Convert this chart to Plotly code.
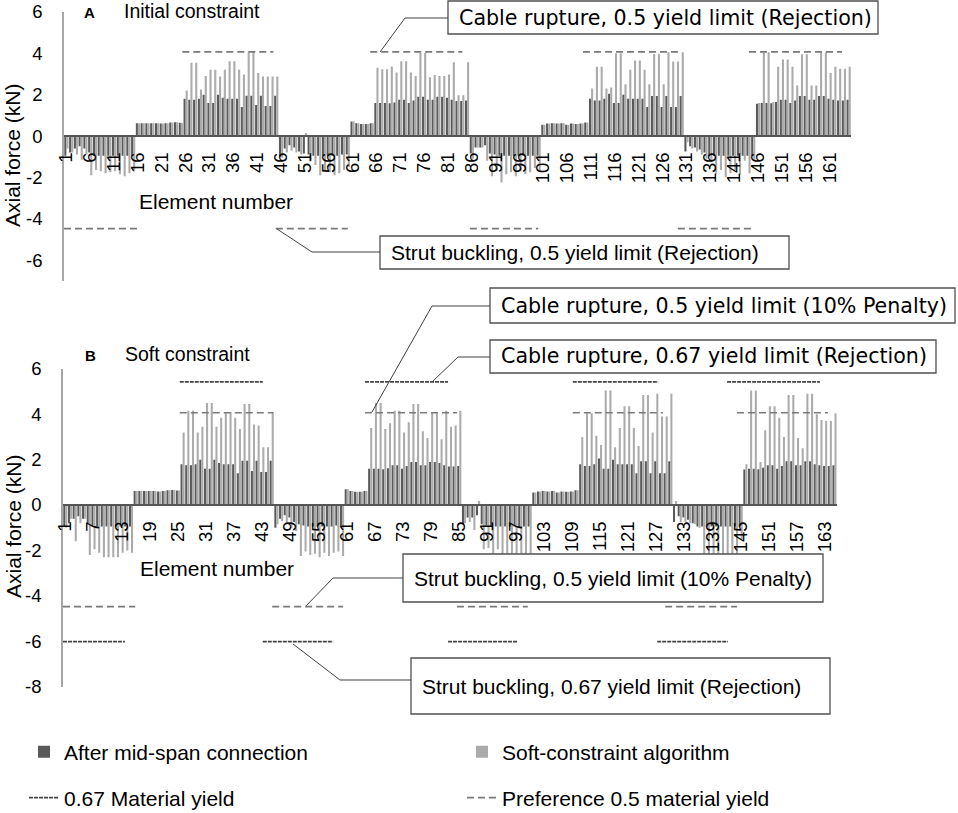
import plotly.graph_objects as go

# ---------------- data ----------------
elements = list(range(1, 166))

# "After mid-span connection" (same in both panels)
after_midspan = [
    -0.95, -0.8, -0.6, -0.5, -0.6, -0.8, -0.95, -0.95, -0.95, -0.95, -0.95, -0.95, -0.95, -0.95, -0.95,
    0.62, 0.62, 0.62, 0.62, 0.62, 0.6, 0.62, 0.65, 0.66, 0.64,
    1.8, 1.75, 1.75, 1.8, 2.0, 1.6, 1.6, 2.0, 1.85, 1.8, 1.8, 1.8, 1.4, 1.95, 1.95, 1.5, 1.95, 1.45, 1.45, 1.95,
    -1.0, -0.6, -0.45, -0.55, -0.75, -0.85, -0.9, -0.95, -0.95, -0.95, -0.95, -0.95, -0.95, -0.9, -0.9,
    0.7, 0.62, 0.58, 0.58, 0.62,
    1.6, 1.6, 1.6, 1.58, 1.62, 1.75, 1.75, 1.6, 1.72, 1.9, 1.9, 1.75, 1.75, 1.9, 1.9, 1.85, 1.75, 1.7, 1.7, 1.72,
    -0.85, -0.55, -0.55, -0.45, -0.85, -0.9, -0.95, -0.95, -0.95, -0.95, -0.95, -0.95, -0.95, -0.95, -0.95,
    0.55, 0.6, 0.62, 0.6, 0.62, 0.55, 0.6, 0.58, 0.6, 0.65,
    1.8, 1.72, 1.72, 1.8, 2.05, 1.6, 1.6, 2.0, 1.8, 1.8, 1.8, 1.8, 1.4, 1.93, 1.93, 1.4, 1.93, 1.4, 1.4, 1.93,
    -0.75, -0.5, -0.55, -0.65, -0.8, -0.95, -0.95, -0.95, -0.95, -0.95, -0.95, -0.95, -0.95, -0.95, -0.95,
    1.56, 1.6, 1.6, 1.58, 1.64, 1.75, 1.75, 1.6, 1.72, 1.93, 1.93, 1.75, 1.75, 1.93, 1.93, 1.8, 1.75, 1.72, 1.72, 1.75,
]

# "Soft-constraint algorithm", panel A (initial constraint)
soft_A = [
    -0.6, -0.8, -0.9, -1.15, -0.9, -1.9, -1.65, -1.7, -1.8, -1.75, -1.7, -1.85, -1.95, -1.8, -1.65,
    0.62, 0.62, 0.62, 0.62, 0.62, 0.6, 0.62, 0.65, 0.66, 0.64,
    2.2, 3.55, 3.55, 2.25, 2.9, 3.2, 3.2, 2.88, 3.2, 3.62, 3.62, 3.2, 2.98, 4.05, 4.05, 3.05, 2.88, 2.88, 2.88, 2.88,
    -1.05, -0.8, -0.7, -0.8, -0.9, 0.15, -1.2, -1.4, -1.9, -1.65, -1.75, -1.9, -1.8, -1.65, -1.5,
    0.7, 0.62, 0.58, 0.58, 0.62,
    3.3, 3.23, 3.23, 3.36, 3.07, 3.62, 3.62, 3.07, 2.9, 4.02, 4.02, 2.84, 2.95, 2.9, 2.9, 2.98, 3.57, 1.97, 1.97, 3.57,
    -1.1, -0.55, -0.55, -1.2, -1.95, -1.7, -2.25, -1.85, -1.75, -1.95, -1.7, -1.85, -1.75, -1.55, -1.7,
    0.55, 0.6, 0.62, 0.6, 0.62, 0.55, 0.6, 0.58, 0.6, 0.65,
    2.3, 3.35, 3.35, 2.3, 2.35, 4.0, 4.0, 2.5, 3.2, 3.65, 3.65, 3.2, 2.5, 3.97, 3.97, 2.5, 4.05, 3.6, 3.6, 4.05,
    -0.3, -0.6, -0.75, -0.9, -1.1, -1.25, -1.85, -1.65, -2.0, -1.8, -1.65, -1.85, -1.2, -1.8, -1.15,
    1.6, 4.05, 4.05, 1.65, 3.35, 3.7, 3.7, 3.35, 2.45, 3.95, 3.95, 2.45, 2.45, 4.05, 4.05, 3.05, 3.35, 3.25, 3.25, 3.35,
]

# "Soft-constraint algorithm", panel B (soft constraint)
soft_B = [
    -1.0, -0.6, -1.6, -0.8, -0.6, -2.2, -1.95, -2.1, -2.3, -2.3, -2.3, -2.3, -2.1, -2.0, -2.1,
    0.62, 0.62, 0.62, 0.62, 0.62, 0.6, 0.62, 0.65, 0.66, 0.64,
    3.2, 4.15, 4.15, 3.2, 3.45, 4.5, 4.5, 3.45, 3.85, 4.1, 4.1, 3.85, 3.35, 4.45, 4.45, 3.55, 3.5, 2.55, 2.55, 4.1,
    -0.85, -0.7, -0.8, -1.0, -1.15, -2.25, -2.05, -2.2, -2.15, -2.3, -2.1, -2.25, -2.1, -2.05, -2.25,
    0.7, 0.62, 0.58, 0.58, 0.62,
    3.4, 4.5, 4.5, 3.35, 3.6, 4.15, 4.15, 3.2, 3.65, 4.45, 4.45, 3.25, 2.95, 4.1, 4.1, 2.9, 4.15, 3.45, 3.5, 4.15,
    -0.8, -0.75, -1.1, 0.18, -1.95, -1.9, -2.6, -1.95, -2.2, -2.2, -2.2, -2.2, -2.15, -2.35, -2.15,
    0.55, 0.6, 0.62, 0.6, 0.62, 0.55, 0.6, 0.58, 0.6, 0.65,
    3.0, 4.05, 4.05, 3.05, 2.65, 5.05, 5.05, 2.55, 3.4, 4.35, 4.35, 3.4, 2.6, 4.85, 4.85, 3.2, 4.9, 3.9, 3.9, 4.9,
    0.18, -0.75, -0.75, -0.8, -0.85, -1.0, -2.25, -2.3, -2.2, -2.35, -2.3, -2.25, -2.2, -2.2, -1.5,
    1.8, 5.05, 5.05, 1.9, 3.3, 4.35, 4.35, 3.85, 3.0, 4.85, 4.85, 2.95, 2.5, 4.9, 4.9, 4.0, 3.75, 3.7, 3.7, 4.05,
]

# limit levels (kN)
cable_05 = 4.07
cable_067 = 5.43
strut_05 = -4.48
strut_067 = -6.02

# element spans covered by each limit line
A_cable05_spans = [(25.3, 44.4), (64.7, 84.0), (109.3, 129.2), (144.1, 163.6)]
A_strut05_spans = [(0.5, 15.8), (44.9, 60.0), (85.6, 99.9), (129.2, 144.5)]
B_cable05_spans = [(25.4, 45.3), (64.9, 84.5), (109.2, 128.4), (144.2, 163.6)]
B_cable067_spans = [(25.4, 43.1), (64.9, 82.6), (109.2, 127.4), (142.1, 161.9)]
B_strut05_spans = [(0.5, 15.9), (45.1, 60.2), (84.5, 99.6), (128.9, 144.2)]
B_strut067_spans = [(0.5, 13.7), (43.1, 58.1), (82.6, 97.5), (127.2, 142.3)]

xticks_A = list(range(1, 166, 5))
xticks_B = list(range(1, 166, 6))
yticks_A = [6, 4, 2, 0, -2, -4, -6]
yticks_B = [6, 4, 2, 0, -2, -4, -6, -8]

# ---------------- layout helpers ----------------
W, H = 958, 813
def px(x):
    return x / W
def py(y):
    return 1 - y / H

DARK = "#5a5a5a"
LIGHT = "#ababab"
DASH_C = "#7a7a7a"
TXT = "#000000"
SANS = "Liberation Sans"
VERD = "DejaVu Sans"


def segs(spans_lists):
    xs, ys = [], []
    for spans, v in spans_lists:
        for s, e in spans:
            xs += [s, e, None]
            ys += [v, v, None]
    return xs, ys


fig = go.Figure()

# Panel A bars
fig.add_trace(go.Bar(x=elements, y=after_midspan, xaxis="x", yaxis="y", marker_color=DARK,
                     marker_line_width=0, offsetgroup="d", name="After mid-span connection",
                     legend="legend", legendrank=1))
fig.add_trace(go.Bar(x=elements, y=soft_A, xaxis="x", yaxis="y", marker_color=LIGHT,
                     marker_line_width=0, offsetgroup="l", name="Soft-constraint algorithm",
                     legend="legend", legendrank=2))
# Panel B bars
fig.add_trace(go.Bar(x=elements, y=after_midspan, xaxis="x2", yaxis="y2", marker_color=DARK,
                     marker_line_width=0, offsetgroup="d", showlegend=False))
fig.add_trace(go.Bar(x=elements, y=soft_B, xaxis="x2", yaxis="y2", marker_color=LIGHT,
                     marker_line_width=0, offsetgroup="l", showlegend=False))

# limit lines
xa, ya = segs([(A_cable05_spans, cable_05), (A_strut05_spans, strut_05)])
fig.add_trace(go.Scatter(x=xa, y=ya, xaxis="x", yaxis="y", mode="lines",
                         line=dict(color=DASH_C, width=1.6, dash="7px,4px"),
                         name="Preference 0.5 material yield", legend="legend2", legendrank=2,
                         hoverinfo="skip"))
xb, yb = segs([(B_cable05_spans, cable_05), (B_strut05_spans, strut_05)])
fig.add_trace(go.Scatter(x=xb, y=yb, xaxis="x2", yaxis="y2", mode="lines",
                         line=dict(color=DASH_C, width=1.6, dash="7px,4px"),
                         showlegend=False, hoverinfo="skip"))
xc, yc = segs([(B_cable067_spans, cable_067), (B_strut067_spans, strut_067)])
fig.add_trace(go.Scatter(x=xc, y=yc, xaxis="x2", yaxis="y2", mode="lines",
                         line=dict(color="#454545", width=1.6, dash="4px,1px"),
                         name="0.67 Material yield", legend="legend2", legendrank=1,
                         hoverinfo="skip"))

# domains
xdomA = [px(64), px(64 + 165 * 4.77)]
xdomB = [px(63), px(63 + 165 * 4.69)]
ydomA = [py(280.7), py(12)]
ydomB = [py(686.5), py(368.9)]
rA = [-7, 6]
rB = [-8, 6]
zeroA = ydomA[0] + (0 - rA[0]) / (rA[1] - rA[0]) * (ydomA[1] - ydomA[0])
zeroB = ydomB[0] + (0 - rB[0]) / (rB[1] - rB[0]) * (ydomB[1] - ydomB[0])

tickfont = dict(family=SANS, size=18.5, color=TXT)

def xaxis_cfg(dom, pos, ticks):
    return dict(domain=dom, range=[0.5, 165.5], anchor="free", position=pos,
                tickmode="array", tickvals=ticks, ticktext=[str(t) for t in ticks],
                tickangle=-90, tickfont=tickfont, showline=True, linecolor="#555555",
                linewidth=2, ticks="", showgrid=False, zeroline=False, ticklabelstandoff=8,
                fixedrange=True, automargin=False)

def yaxis_cfg(dom, rng, ticks, anchor):
    return dict(domain=dom, range=rng, anchor=anchor, tickmode="array", tickvals=ticks,
                ticktext=[str(t) for t in ticks], tickfont=tickfont, showline=True,
                linecolor="#a6a6a6", linewidth=1.5, ticks="", showgrid=False,
                zeroline=False, ticklabelstandoff=16, fixedrange=True, automargin=False)

legend_font = dict(family=SANS, size=21, color=TXT)
fig.update_layout(
    width=W, height=H, margin=dict(l=0, r=0, t=0, b=0, pad=0, autoexpand=False),
    paper_bgcolor="white", plot_bgcolor="rgba(0,0,0,0)",
    font=dict(family=SANS, color=TXT),
    barmode="group", bargap=0.12, bargroupgap=0.0,
    xaxis=xaxis_cfg(xdomA, zeroA, xticks_A),
    yaxis=yaxis_cfg(ydomA, rA, yticks_A, "x"),
    xaxis2=xaxis_cfg(xdomB, zeroB, xticks_B),
    yaxis2=yaxis_cfg(ydomB, rB, yticks_B, "x2"),
    legend=dict(orientation="h", x=px(24), xanchor="left", y=py(752), yanchor="middle",
                entrywidth=393, entrywidthmode="pixels", font=legend_font,
                bgcolor="rgba(0,0,0,0)", itemwidth=30),
    legend2=dict(orientation="h", x=px(24), xanchor="left", y=py(798), yanchor="middle",
                 entrywidth=393, entrywidthmode="pixels", font=legend_font,
                 bgcolor="rgba(0,0,0,0)", itemwidth=30),
    showlegend=True,
)

ann = []
def text(x, y, s, size, family=SANS, bold=False, xanchor="left", angle=0):
    ann.append(dict(x=px(x), y=py(y), xref="paper", yref="paper", text=f"<b>{s}</b>" if bold else s,
                    showarrow=False, xanchor=xanchor, yanchor="middle", textangle=angle,
                    font=dict(family=family, size=size, color=TXT)))

# panel titles and axis titles
text(82, 12, "A", 15, bold=True)
text(122, 11, "Initial constraint", 19.5)
text(83, 355, "B", 15, bold=True)
text(123, 354, "Soft constraint", 19.5)
text(137, 202, "Element number", 21)
text(138, 568, "Element number", 21)
text(13, 155, "Axial force (kN)", 21, xanchor="center", angle=-90)
text(13, 526, "Axial force (kN)", 21, xanchor="center", angle=-90)

shapes = []
def callout(box, label, family, size, leader):
    x0, y0, x1, y1 = box
    shapes.append(dict(type="rect", xref="paper", yref="paper", x0=px(x0), x1=px(x1),
                       y0=py(y1), y1=py(y0), line=dict(color="#505050", width=1.3),
                       fillcolor="white", layer="above"))
    text(x0 + 9, (y0 + y1) / 2, label, size, family=family)
    path = "M " + " L ".join(f"{px(a)},{py(b)}" for a, b in leader)
    shapes.append(dict(type="path", xref="paper", yref="paper", path=path,
                       line=dict(color="#404040", width=1), layer="above"))

callout((448, 1, 878, 34), "Cable rupture, 0.5 yield limit (Rejection)", VERD, 20.6,
        [(448, 18), (405, 18), (380, 52)])
callout((380, 236, 789, 269), "Strut buckling, 0.5 yield limit (Rejection)", SANS, 21,
        [(380, 252), (312, 252), (277, 229)])
callout((490, 288, 955, 323), "Cable rupture, 0.5 yield limit (10% Penalty)", VERD, 20.6,
        [(490, 306), (432, 306), (372, 412)])
callout((490, 340, 936, 373), "Cable rupture, 0.67 yield limit (Rejection)", VERD, 20.6,
        [(490, 357), (458, 357), (432, 382)])
callout((403, 554, 823, 602), "Strut buckling, 0.5 yield limit (10% Penalty)", SANS, 21,
        [(403, 578), (333, 578), (306, 606)])
callout((411, 658, 830, 714), "Strut buckling, 0.67 yield limit (Rejection)", SANS, 21,
        [(411, 680), (340, 680), (293, 644)])

fig.update_layout(annotations=ann, shapes=shapes)

fig.write_html(
    "out.html",
    config={"displayModeBar": False},
    post_script=(
        "document.documentElement.style.margin='0';"
        "document.documentElement.style.padding='0';"
        "document.documentElement.style.overflow='hidden';"
        "document.body.style.margin='0';"
        "document.body.style.padding='0';"
        "document.body.style.overflow='hidden';"
    ),
)
